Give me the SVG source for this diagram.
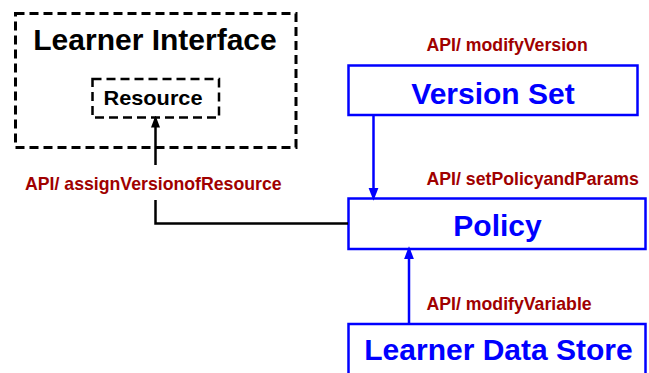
<svg xmlns="http://www.w3.org/2000/svg" width="649" height="373" viewBox="0 0 649 373">
<style>
.dash{fill:none;stroke:#000;stroke-width:3;stroke-dasharray:9 5}
.box{fill:#fff;stroke:#0000ff;stroke-width:2.5}
.big{font-family:"Liberation Sans",Arial,sans-serif;font-weight:bold;font-size:30px;text-anchor:middle}
.lbl{font-family:"Liberation Sans",Arial,sans-serif;font-weight:bold;font-size:17.7px;fill:#a00000}
.blue{fill:#0000ff}
.cb{fill:none;stroke:#0000ff;stroke-width:2.5}
.ck{fill:none;stroke:#000;stroke-width:2.5}
</style>
<defs>
<marker id="ab" markerWidth="13" markerHeight="17" refX="12" refY="6.5" orient="auto" markerUnits="userSpaceOnUse" viewBox="0 0 17 13"><path d="M0,0 L17,6.5 L0,13 z" fill="#0000ff"/></marker>
<marker id="ak" markerWidth="12" markerHeight="16" refX="12" refY="6" orient="auto" markerUnits="userSpaceOnUse" viewBox="0 0 16 12"><path d="M0,0 L16,6 L0,12 z" fill="#000"/></marker>
</defs>
<rect width="649" height="373" fill="#fff"/>
<g id="learner-interface">
<rect class="dash" x="15.5" y="13.5" width="280.5" height="134"/>
<text class="big" x="155" y="49.5">Learner Interface</text>
</g>
<g id="resource">
<rect class="dash" style="stroke-width:2.5" x="92.5" y="79" width="126.5" height="38.5"/>
<text class="big" style="font-size:21px" x="153" y="104.5" textLength="99" lengthAdjust="spacingAndGlyphs">Resource</text>
</g>
<g id="version-set">
<rect class="box" x="348.5" y="65.5" width="289" height="49.5"/>
<text class="big blue" x="493" y="103.5">Version Set</text>
</g>
<g id="policy">
<rect class="box" x="348.5" y="198.5" width="297" height="50.5"/>
<text class="big blue" x="497.5" y="235.5">Policy</text>
</g>
<g id="learner-data-store">
<rect class="box" x="348.5" y="324" width="297" height="60"/>
<text class="big blue" x="498.5" y="360">Learner Data Store</text>
</g>
<g id="connectors">
<path class="cb" d="M373.5,115 V197" marker-end="url(#ab)"/>
<path class="cb" d="M409,324 V250" marker-end="url(#ab)"/>
<path class="ck" d="M348,223.5 H155.5 V200 M155.5,165 V118.5" marker-end="url(#ak)"/>
</g>
<g id="labels">
<text class="lbl" x="426.5" y="51">API/ modifyVersion</text>
<text class="lbl" x="25" y="189.5">API/ assignVersionofResource</text>
<text class="lbl" x="426.5" y="185">API/ setPolicyandParams</text>
<text class="lbl" x="426.5" y="310">API/ modifyVariable</text>
</g>
</svg>
